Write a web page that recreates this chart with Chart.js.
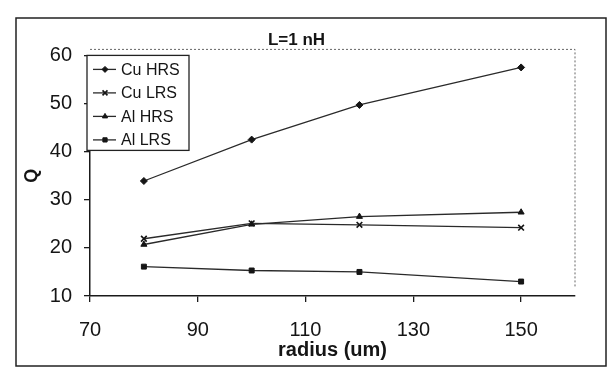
<!doctype html>
<html>
    <head>
        <meta charset="UTF-8" />
        <title>L=1 nH</title>
        <script src="https://cdn.jsdelivr.net/npm/chart.js"></script>
        <style>
            body { margin: 0; background: #fff; }
            #wrap { width: 612px; height: 376px; }
        </style>
    </head>

    <body>
        <div id="wrap"><canvas id="myChart" width="612" height="376"></canvas></div>

        <script>
        // values
        var radius = [80, 100, 120, 150];
        var cuHRS = [33.9, 42.5, 49.7, 57.5];
        var cuLRS = [21.9, 25.1, 24.8, 24.2];
        var alHRS = [20.7, 24.9, 26.5, 27.4];
        var alLRS = [16.1, 15.3, 15.0, 13.0];

        var seriesNames = ['Cu HRS', 'Cu LRS', 'Al HRS', 'Al LRS'];
        var seriesMarks = ['rectRot', 'crossRot', 'triangle', 'rect'];
        var xTicks = [70, 90, 110, 130, 150];
        var yTicks = [10, 20, 30, 40, 50, 60];

        var fontFam = '"Liberation Sans", Arial, sans-serif';
        var ink = '#151515';

        function toPoints(vals) {
            return vals.map(function (v, i) { return {x: radius[i], y: v}; });
        }

        var allSeries = [cuHRS, cuLRS, alHRS, alLRS];
        var datasets = allSeries.map(function (vals, i) {
            return {
                label: seriesNames[i],
                data: toPoints(vals),
                showLine: true,
                borderColor: '#2a2a2a',
                backgroundColor: ink,
                borderWidth: 1.3,
                pointStyle: seriesMarks[i],
                pointRadius: seriesMarks[i] == 'crossRot' ? 4 : 3.5,
                pointBorderWidth: seriesMarks[i] == 'crossRot' ? 1.6 : 1,
                pointBorderColor: ink,
                pointBackgroundColor: ink
            };
        });

        // white page, outer frame and dotted plot-area frame
        var framePlugin = {
            id: 'frames',
            beforeDraw: function (chart) {
                var c = chart.ctx, ca = chart.chartArea;
                c.save();
                c.fillStyle = '#fff';
                c.fillRect(0, 0, chart.width, chart.height);
                c.strokeStyle = '#222';
                c.lineWidth = 1.5;
                c.strokeRect(16, 18, 590, 348);
                c.strokeStyle = '#666';
                c.lineWidth = 1;
                c.setLineDash([2, 2]);
                c.beginPath();
                c.moveTo(ca.left, ca.top - 6);
                c.lineTo(ca.right, ca.top - 6);
                c.lineTo(ca.right, ca.bottom - 8);
                c.stroke();
                c.restore();
            },
            afterDraw: function (chart) {
                // legend box in the top left corner of the plot
                var c = chart.ctx, ca = chart.chartArea;
                var bx = ca.left - 3, by = ca.top, bw = 102, bh = 95;
                c.save();
                c.fillStyle = '#fff';
                c.fillRect(bx, by, bw, bh);
                c.strokeStyle = '#222';
                c.lineWidth = 1.3;
                c.strokeRect(bx, by, bw, bh);
                c.font = '16px ' + fontFam;
                c.textBaseline = 'middle';
                chart.data.datasets.forEach(function (ds, i) {
                    var ly = by + 14 + i * 23.5;
                    c.strokeStyle = '#2a2a2a';
                    c.lineWidth = 1.3;
                    c.beginPath();
                    c.moveTo(bx + 6, ly);
                    c.lineTo(bx + 29, ly);
                    c.stroke();
                    c.fillStyle = ink;
                    c.strokeStyle = ink;
                    c.lineWidth = ds.pointBorderWidth;
                    Chart.helpers.drawPoint(c, {
                        pointStyle: ds.pointStyle,
                        radius: ds.pointRadius - 0.5,
                        rotation: 0,
                        borderWidth: ds.pointBorderWidth
                    }, bx + 18, ly);
                    c.fillStyle = ink;
                    c.fillText(ds.label, bx + 34, ly + 1);
                });
                c.restore();
            }
        };

        var ctx = document.getElementById('myChart').getContext('2d');
        var myChart = new Chart(ctx, {
            type: 'scatter',
            data: { datasets: datasets },
            plugins: [framePlugin],
            options: {
                responsive: false,
                animation: false,
                layout: { padding: { left: 18, right: 37, top: 22, bottom: 14 } },
                plugins: {
                    legend: { display: false },
                    tooltip: { enabled: false },
                    title: {
                        display: true,
                        text: 'L=1 nH',
                        color: ink,
                        font: { family: fontFam, size: 17, weight: 'bold' },
                        padding: { top: 8, bottom: 5 }
                    }
                },
                scales: {
                    x: {
                        type: 'linear',
                        position: 'bottom',
                        min: 70,
                        max: 160,
                        afterBuildTicks: function (s) {
                            s.ticks = xTicks.map(function (v) { return {value: v}; });
                        },
                        afterFit: function (s) { s.height = 66; },
                        border: { display: true, color: '#1a1a1a', width: 1.5 },
                        grid: { drawOnChartArea: false, tickLength: 6, color: '#1a1a1a', lineWidth: 1.3 },
                        ticks: {
                            padding: 16,
                            color: ink,
                            maxRotation: 0,
                            font: { family: fontFam, size: 20 }
                        },
                        title: {
                            display: true,
                            text: 'radius (um)',
                            color: ink,
                            padding: 0,
                            font: { family: fontFam, size: 20, weight: 'bold' }
                        }
                    },
                    y: {
                        type: 'linear',
                        min: 10,
                        max: 60,
                        afterBuildTicks: function (s) {
                            s.ticks = yTicks.map(function (v) { return {value: v}; });
                        },
                        afterFit: function (s) { s.width = 72; },
                        border: { display: true, color: '#1a1a1a', width: 1.5 },
                        grid: { drawOnChartArea: false, tickLength: 6, color: '#1a1a1a', lineWidth: 1.3 },
                        ticks: {
                            padding: 12,
                            color: ink,
                            font: { family: fontFam, size: 20 }
                        },
                        title: {
                            display: true,
                            text: 'Q',
                            color: ink,
                            padding: { top: 3, bottom: 0 },
                            font: { family: fontFam, size: 18, weight: 'bold' }
                        }
                    }
                }
            }
        });
        </script>
    </body>
</html>
